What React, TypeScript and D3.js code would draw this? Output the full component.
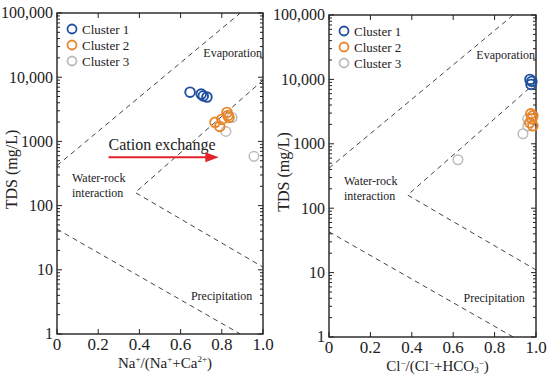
import * as d3 from "d3";

// ---- data ----
const clusterNames = ["Cluster 1", "Cluster 2", "Cluster 3"];
const clusterColors = ["#1f4f9e", "#e8862a", "#bcbcbc"];

// Na+/(Na+ + Ca2+) panel
const naRatio1 = [0.646, 0.7, 0.71, 0.728];
const naTds1 = [5850, 5450, 5100, 4900];
const naRatio2 = [0.825, 0.83, 0.835, 0.8, 0.767, 0.79];
const naTds2 = [2830, 2540, 2360, 2200, 1980, 1710];
const naRatio3 = [0.85, 0.82, 0.956];
const naTds3 = [2360, 1430, 585];

// Cl-/(Cl- + HCO3-) panel
const clRatio1 = [0.971, 0.98, 0.976];
const clTds1 = [10000, 9300, 8370];
const clRatio2 = [0.975, 0.985, 0.98, 0.97, 0.985];
const clTds2 = [2930, 2720, 2440, 2120, 1900];
const clRatio3 = [0.96, 0.96, 0.937, 0.623];
const clTds3 = [2440, 1900, 1430, 565];

// Gibbs boundaries [ratio, TDS]
const upperBound = [[0, 420], [0.89, 100000]];
const middleBound = [[1, 9000], [0.38, 160], [1, 11]];
const lowerBound = [[0, 43], [0.89, 1]];

const xTicks = [0, 0.2, 0.4, 0.6, 0.8, 1.0];
const yTicks = [1, 10, 100, 1000, 10000, 100000];
const yTickLabels = ["1", "10", "100", "1000", "10,000", "100,000"];

const FONT = "Liberation Serif, Times New Roman, DejaVu Serif, serif";

type PanelProps = {
  left: number;
  right: number;
  top: number;
  bottom: number;
  ratios: number[][];
  tds: number[][];
  kind: "na" | "cl";
  arrow?: boolean;
};

function Panel({ left, right, top, bottom, ratios, tds, kind, arrow }: PanelProps) {
  const x = d3.scaleLinear().domain([0, 1]).range([left, right]);
  const y = d3.scaleLog().domain([1, 100000]).range([bottom, top]);
  const line = d3
    .line<number[]>()
    .x((d) => x(d[0]))
    .y((d) => y(d[1]));

  const minor: number[] = [];
  for (let e = 0; e < 5; e++) for (let k = 2; k <= 9; k++) minor.push(k * Math.pow(10, e));

  const clipId = "clip-" + kind;
  const order = [2, 1, 0];

  return (
    <g style={{ fontFamily: FONT }} fill="#222">
      <defs>
        <clipPath id={clipId}>
          <rect x={left} y={top} width={right - left} height={bottom - top} />
        </clipPath>
      </defs>

      <g clipPath={`url(#${clipId})`} fill="none" stroke="#444" strokeWidth={1} strokeDasharray="5,4">
        <path d={line(upperBound) || ""} />
        <path d={line(middleBound) || ""} />
        <path d={line(lowerBound) || ""} />
      </g>

      {/* ticks */}
      <g stroke="#222" strokeWidth={1}>
        {yTicks.map((t) => (
          <g key={"y" + t}>
            <line x1={left} x2={left + 5} y1={y(t)} y2={y(t)} />
            <line x1={right} x2={right - 5} y1={y(t)} y2={y(t)} />
          </g>
        ))}
        {minor.map((t) => (
          <g key={"m" + t}>
            <line x1={left} x2={left + 3} y1={y(t)} y2={y(t)} />
            <line x1={right} x2={right - 3} y1={y(t)} y2={y(t)} />
          </g>
        ))}
        {xTicks.map((t) => (
          <g key={"x" + t}>
            <line x1={x(t)} x2={x(t)} y1={bottom} y2={bottom - 5} />
            <line x1={x(t)} x2={x(t)} y1={top} y2={top + 5} />
          </g>
        ))}
      </g>
      <rect x={left} y={top} width={right - left} height={bottom - top} fill="none" stroke="#222" strokeWidth={1.4} />

      {/* tick labels */}
      {yTicks.map((t, i) => (
        <text key={"yl" + t} x={left - 4} y={y(t)} dy="0.34em" textAnchor="end" fontSize={16}>
          {yTickLabels[i]}
        </text>
      ))}
      {xTicks.map((t) => (
        <text key={"xl" + t} x={x(t)} y={bottom + 16} textAnchor="middle" fontSize={17}>
          {t.toFixed(t === 0 ? 0 : 1)}
        </text>
      ))}

      {/* axis titles */}
      <text
        transform={`translate(${left - 40},${(top + bottom) / 2 - 4}) rotate(-90)`}
        textAnchor="middle"
        fontSize={16}
      >
        TDS (mg/L)
      </text>
      {kind === "na" ? (
        <text x={(left + right) / 2 + 5} y={bottom + 34} textAnchor="middle" fontSize={15}>
          Na<tspan fontSize={9} dy={-6}>+</tspan>
          <tspan dy={6}>/(Na</tspan>
          <tspan fontSize={9} dy={-6}>+</tspan>
          <tspan dy={6}>+Ca</tspan>
          <tspan fontSize={9} dy={-6}>2+</tspan>
          <tspan dy={6}>)</tspan>
        </text>
      ) : (
        <text x={(left + right) / 2 + 5} y={bottom + 34} textAnchor="middle" fontSize={15}>
          Cl<tspan fontSize={9} dy={-5}>−</tspan>
          <tspan dy={5}>/(Cl</tspan>
          <tspan fontSize={9} dy={-5}>−</tspan>
          <tspan dy={5}>+HCO</tspan>
          <tspan fontSize={9} dy={2}>3</tspan>
          <tspan fontSize={9} dy={-7}>−</tspan>
          <tspan dy={5}>)</tspan>
        </text>
      )}

      {/* region labels */}
      <text x={right - 1} y={y(100000) + 44} textAnchor="end" fontSize={12}>
        Evaporation
      </text>
      <text x={left + 15} y={y(150) - 12} fontSize={12}>
        Water-rock
      </text>
      <text x={left + 15} y={y(150) + 3} fontSize={12}>
        interaction
      </text>
      <text x={x(0.65)} y={y(3.2) - 2} fontSize={12}>
        Precipitation
      </text>

      {arrow && (
        <g>
          <text x={x(0.25)} y={y(740)} fontSize={16}>
            Cation exchange
          </text>
          <line x1={x(0.25)} x2={x(0.73)} y1={y(565)} y2={y(565)} stroke="#e3222b" strokeWidth={2} />
          <path
            d={`M${x(0.785)},${y(565)} L${x(0.72)},${y(565) - 5} L${x(0.72)},${y(565) + 5} Z`}
            fill="#e3222b"
          />
        </g>
      )}

      {/* points */}
      {order.map((c) =>
        ratios[c].map((r, i) => (
          <circle
            key={`p${c}-${i}`}
            cx={x(r)}
            cy={y(tds[c][i])}
            r={4.8}
            fill="none"
            stroke={clusterColors[c]}
            strokeWidth={c === 2 ? 1.5 : 1.9}
          />
        ))
      )}

      {/* legend */}
      {clusterNames.map((n, i) => (
        <g key={n}>
          <circle cx={left + 15} cy={top + 16 + i * 16} r={4.5} fill="none" stroke={clusterColors[i]} strokeWidth={1.8} />
          <text x={left + 25} y={top + 16 + i * 16} dy="0.35em" fontSize={13}>
            {n}
          </text>
        </g>
      ))}
    </g>
  );
}

export default function App() {
  return (
    <svg
      width={550}
      height={375}
      style={{ position: "absolute", left: 0, top: 0, background: "#fff", fontFamily: FONT }}
    >
      <rect width={550} height={375} fill="#fff" />
      <Panel
        left={57}
        right={263}
        top={13}
        bottom={334}
        ratios={[naRatio1, naRatio2, naRatio3]}
        tds={[naTds1, naTds2, naTds3]}
        kind="na"
        arrow
      />
      <Panel
        left={329}
        right={536}
        top={15}
        bottom={337}
        ratios={[clRatio1, clRatio2, clRatio3]}
        tds={[clTds1, clTds2, clTds3]}
        kind="cl"
      />
    </svg>
  );
}
